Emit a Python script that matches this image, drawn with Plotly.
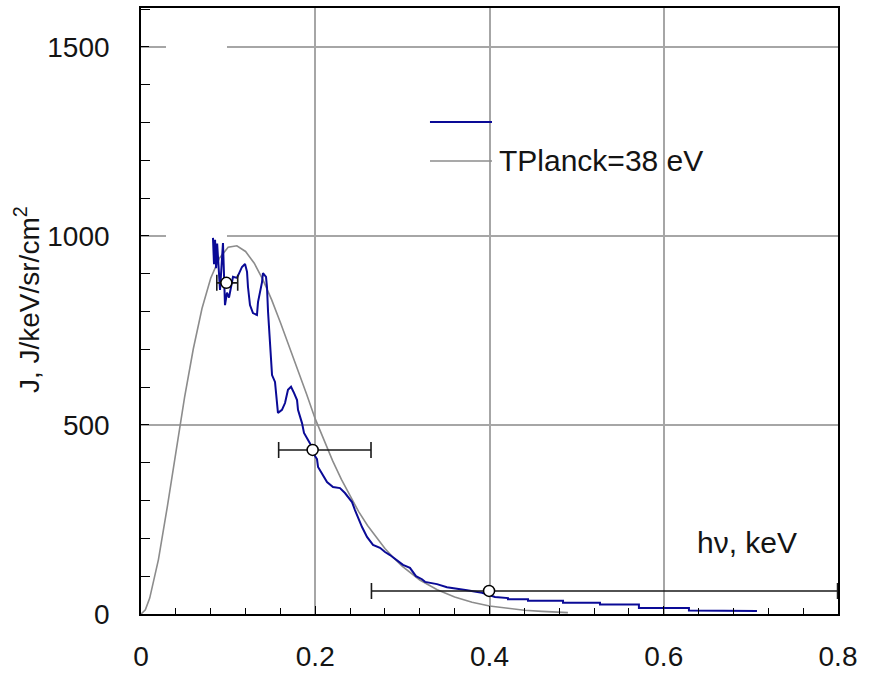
import plotly.graph_objects as go

# ---- data ----
# measured spectrum (blue), energy in keV, J in J/keV/sr/cm^2
spec_E = [0.0826, 0.0838, 0.0850, 0.0862, 0.0874, 0.0884, 0.0907, 0.0941, 0.0964,
          0.0987, 0.1010, 0.1056, 0.1102, 0.1159, 0.1194, 0.1217, 0.1228, 0.1251,
          0.1285, 0.1331, 0.1343, 0.1389, 0.1400, 0.1435, 0.1446, 0.1458, 0.1481,
          0.1504, 0.1538, 0.1561, 0.1572, 0.1618, 0.1653, 0.1687, 0.1722, 0.1756,
          0.1791, 0.1802, 0.1848, 0.1871, 0.1917, 0.1963, 0.1997, 0.2020, 0.2032,
          0.2077, 0.2135, 0.2204, 0.2284, 0.2341, 0.2422, 0.2456, 0.2491, 0.2537,
          0.2594, 0.2663, 0.2743, 0.2801, 0.2858, 0.2938, 0.3007, 0.3087, 0.3156,
          0.3225, 0.3260, 0.3397, 0.3512, 0.3742, 0.3914, 0.4063, 0.4212, 0.4212,
          0.4442, 0.4442, 0.4844, 0.4844, 0.5268, 0.5268, 0.5715, 0.5715, 0.6289,
          0.6289, 0.7070]
spec_J = [995, 925, 990, 915, 980, 930, 857, 981, 817,
          850, 837, 892, 889, 918, 926, 905, 865, 817,
          796, 791, 825, 878, 902, 892, 865, 800, 717,
          632, 614, 540, 532, 540, 558, 593, 601, 585,
          566, 540, 505, 479, 460, 442, 418, 410, 389,
          373, 349, 336, 333, 320, 296, 275, 254, 230,
          204, 183, 175, 164, 156, 143, 130, 122, 100,
          92, 85, 79, 71, 63, 56, 45, 42, 39,
          39, 35, 35, 30, 30, 25, 25, 16, 16,
          9, 8]

# Planck curve, T = 38 eV (grey)
planck_E = [0.0, 0.005, 0.01, 0.02, 0.03, 0.04, 0.05, 0.06, 0.07, 0.08, 0.09, 0.10,
            0.11, 0.12, 0.13, 0.14, 0.15, 0.16, 0.17, 0.18, 0.19, 0.20, 0.21, 0.22,
            0.23, 0.24, 0.25, 0.26, 0.27, 0.28, 0.29, 0.30, 0.32, 0.34, 0.36, 0.38,
            0.40, 0.42, 0.44, 0.46, 0.48, 0.49]
planck_J = [0, 11, 42, 144, 281, 429, 573, 701, 808, 888, 941, 970,
            974, 959, 928, 884, 831, 771, 709, 645, 582, 516, 458, 405,
            356, 311, 270, 234, 202, 173, 148, 126, 90, 64, 45, 31,
            21, 15, 10, 7, 4.5, 3.7]

# points with horizontal error bars
pts_E = [0.098, 0.197, 0.3995]
pts_J = [876, 434, 61]
pts_err_minus = [0.011, 0.039, 0.135]
pts_err_plus = [0.013, 0.067, 0.4]

legend_label = "TPlanck=38 eV"
x_title = "h\u03bd, keV"
y_title = "J, J/keV/sr/cm<sup>2</sup>"

FONT = "Liberation Sans, Arial, sans-serif"
TXT = "#141414"

fig = go.Figure()

fig.add_trace(go.Scatter(x=planck_E, y=planck_J, mode="lines",
                         line=dict(color="#8c8c8c", width=1.6),
                         showlegend=False, hoverinfo="skip"))
fig.add_trace(go.Scatter(x=spec_E, y=spec_J, mode="lines",
                         line=dict(color="#0a0a96", width=2),
                         showlegend=False, hoverinfo="skip"))
fig.add_trace(go.Scatter(x=pts_E, y=pts_J, mode="markers",
                         marker=dict(symbol="circle", size=11, color="white",
                                     line=dict(color="black", width=1.5)),
                         error_x=dict(type="data", symmetric=False,
                                      array=pts_err_plus, arrayminus=pts_err_minus,
                                      color="#1a1a1a", thickness=1.6, width=8),
                         showlegend=False, hoverinfo="skip"))

# white patch hiding part of the grid (as in the reference)
fig.add_shape(type="rect", xref="x", yref="y", x0=0.0287, x1=0.0987, y0=997, y1=1504,
              fillcolor="white", line=dict(width=0), layer="between")

# manual legend
fig.add_shape(type="line", xref="paper", yref="paper", x0=0.4146, x1=0.5036,
              y0=0.8119, y1=0.8119, line=dict(color="#0a0a96", width=2))
fig.add_shape(type="line", xref="paper", yref="paper", x0=0.4146, x1=0.5036,
              y0=0.7475, y1=0.7475, line=dict(color="#8c8c8c", width=1.6))
fig.add_annotation(xref="paper", yref="paper", x=0.5108, y=0.749, text=legend_label,
                   showarrow=False, xanchor="left", yanchor="middle",
                   font=dict(family=FONT, size=30, color=TXT))

# x axis label inside the plot
fig.add_annotation(xref="paper", yref="paper", x=0.7948, y=0.118, text=x_title,
                   showarrow=False, xanchor="left", yanchor="middle",
                   font=dict(family=FONT, size=30, color=TXT))
# y axis title
fig.add_annotation(xref="paper", yref="paper", x=(27 - 141) / 697, y=0.518,
                   text=y_title, textangle=-90, showarrow=False,
                   xanchor="center", yanchor="middle",
                   font=dict(family=FONT, size=28, color=TXT))

axis_common = dict(showline=True, linecolor="black", linewidth=1.6, mirror=True,
                   showgrid=True, gridcolor="#a6a6a6", gridwidth=1.5,
                   zeroline=False, ticks="inside", ticklen=8, tickcolor="black",
                   tickwidth=1.3, automargin=False,
                   tickfont=dict(family=FONT, size=28, color=TXT))

fig.update_xaxes(range=[0, 0.8], tick0=0, dtick=0.2,
                 ticklabelstandoff=17,
                 minor=dict(dtick=0.04, ticks="inside", ticklen=6, tickcolor="black",
                            showgrid=False),
                 **axis_common)
fig.update_yaxes(range=[0, 1603], tick0=0, dtick=500, ticklabelstandoff=24,
                 minor=dict(dtick=100, ticks="inside", ticklen=9, tickcolor="black",
                            showgrid=False),
                 **axis_common)

fig.update_layout(width=871, height=675,
                  margin=dict(l=141, r=33, t=8, b=61),
                  paper_bgcolor="white", plot_bgcolor="white",
                  showlegend=False)

fig.write_html("out.html")
